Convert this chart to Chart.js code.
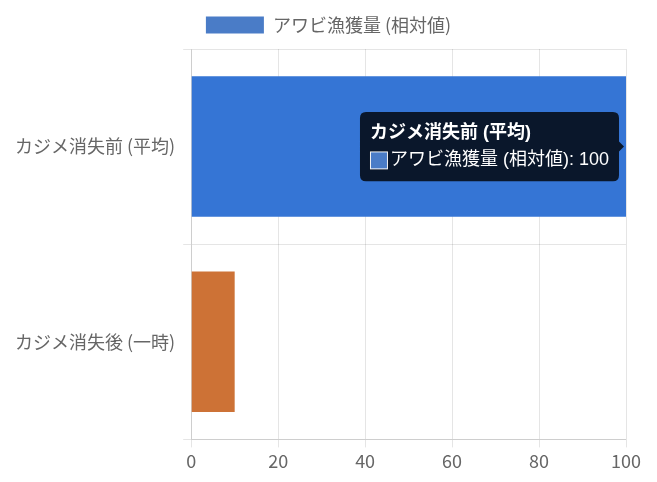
<!DOCTYPE html>
<html><head><meta charset="utf-8">
<script src="https://cdn.jsdelivr.net/npm/chart.js@4"></script>
<style>html,body{margin:0;padding:0;background:#fff}#wrap{width:657px;height:482px}</style>
</head><body><div id="wrap"><canvas id="c"></canvas></div>
<script>
const categories = ['カジメ消失前 (平均)', 'カジメ消失後 (一時)'];
const seriesName = 'アワビ漁獲量 (相対値)';
const values = [100, 10];
const barColors = ['#4a7cc7', '#cd7236'];
const hoverColors = ['#3575d5', '#cd7236'];

const cjk = '"Noto Sans CJK JP", "Noto Sans", sans-serif';
const tipFont = '"Liberation Sans", Arial, "Noto Sans CJK JP", sans-serif';
Chart.defaults.font.family = cjk;
Chart.defaults.font.size = 18;
Chart.defaults.color = '#666';

const legendGap = {
  id: 'legendGap',
  beforeInit(chart) {
    const lg = chart.legend;
    if (lg && !lg._gapPatched) {
      const fit = lg.fit;
      lg.fit = function () { fit.call(this); this.height += 5; };
      lg._gapPatched = true;
    }
  },
  afterLayout(chart) {
    const lg = chart.legend;
    if (lg) {
      lg.left = 0;
      lg.right = chart.width;
      lg.width = chart.width;
      if (typeof lg.adjustHitBoxes === 'function') lg.adjustHitBoxes();
    }
  }
};

const chart = new Chart(document.getElementById('c'), {
  type: 'bar',
  data: {
    labels: categories,
    datasets: [{
      label: seriesName,
      data: values,
      backgroundColor: barColors,
      hoverBackgroundColor: hoverColors
    }]
  },
  options: {
    indexAxis: 'y',
    responsive: true,
    maintainAspectRatio: false,
    animation: false,
    layout: { padding: { left: 7, right: 31, top: 6, bottom: 7 } },
    plugins: {
      legend: { labels: { boxWidth: 58, boxHeight: 17, padding: 10 } },
      tooltip: {
        padding: 10,
        titleFont: { family: tipFont, size: 18, weight: 'bold' },
        bodyFont: { family: tipFont, size: 18 }
      }
    },
    scales: {
      x: { min: 0, max: 100, ticks: { stepSize: 20 } },
      y: { ticks: { padding: 8 } }
    }
  },
  plugins: [legendGap]
});
const el = [{datasetIndex: 0, index: 0}];
chart.setActiveElements(el);
chart.tooltip.setActiveElements(el, {x: 0, y: 0});
chart.update();
</script></body></html>
